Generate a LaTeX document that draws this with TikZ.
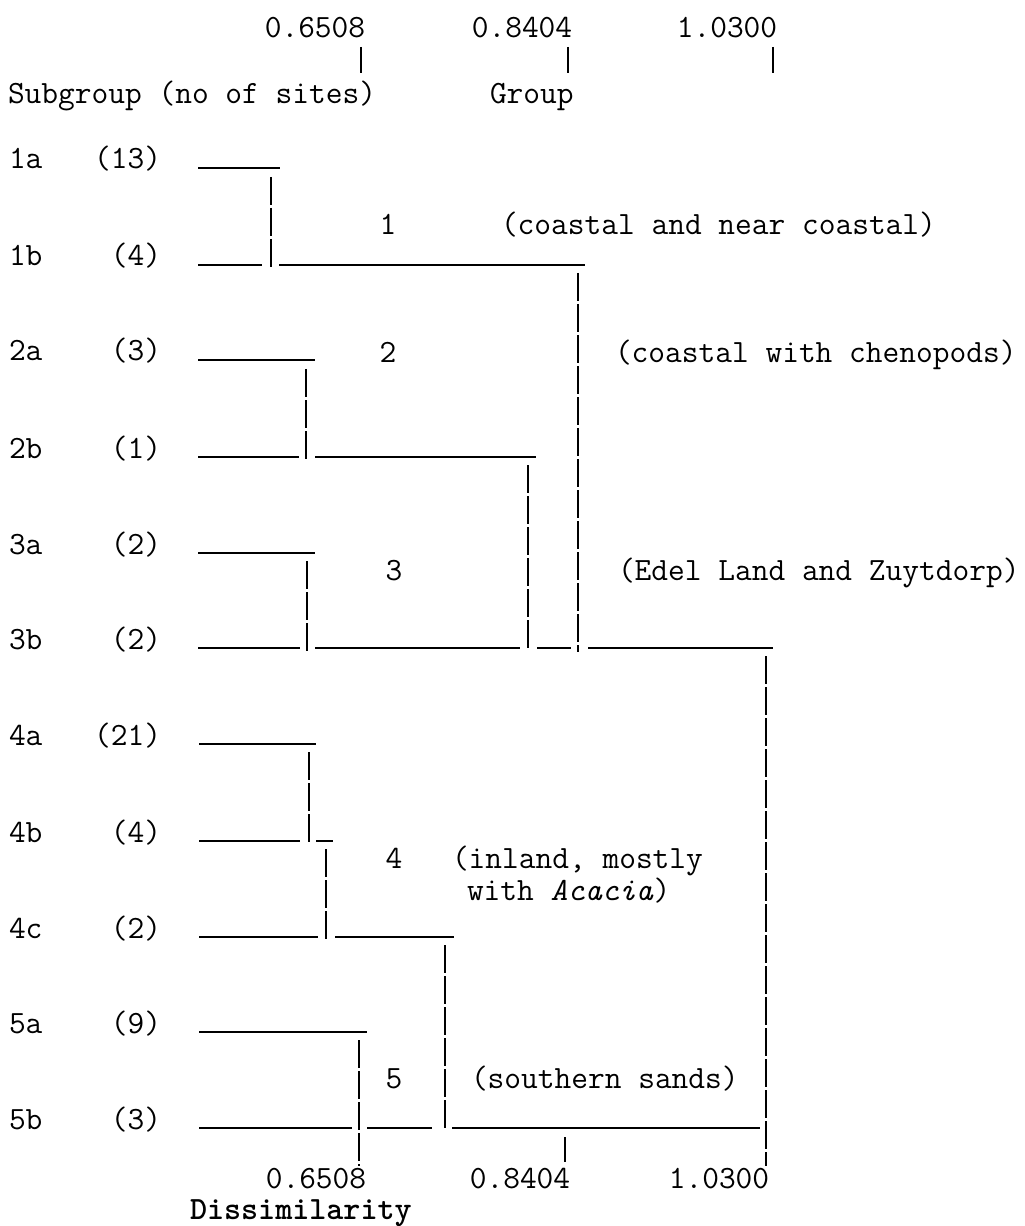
\documentclass[tikz,border=0pt]{standalone}
\begin{document}
\begin{tikzpicture}[x=0.5bp,y=-0.5bp,
  txt/.style={font=\fontsize{16.24bp}{19bp}\selectfont\ttfamily, inner sep=0pt, outer sep=0pt},
  hbar/.style={line width=1.2bp},
  vbar/.style={line width=1.2bp, dash pattern=on 14bp off 1.5bp},
]
\useasboundingbox[fill=white] (0,0) rectangle (1024,1226);

% dissimilarity scale along the top
\node[txt,anchor=base] (top1) at (315,38) {0.6508};
\node[txt,anchor=base] (top2) at (522,38) {0.8404};
\node[txt,anchor=base] (top3) at (727,38) {1.0300};
\coordinate (tt1a) at (361,47); \coordinate (tt1b) at (361,73);
\coordinate (tt2a) at (568,47); \coordinate (tt2b) at (568,73);
\coordinate (tt3a) at (773,47); \coordinate (tt3b) at (773,73);
\draw[hbar] (tt1a) -- (tt1b);
\draw[hbar] (tt2a) -- (tt2b);
\draw[hbar] (tt3a) -- (tt3b);

% column headings
\node[txt,anchor=base west] (head) at (8,104) {Subgroup (no of sites)};
\node[txt,anchor=base west] (grp) at (490,104) {Group};

% subgroup rows: name, count, line level
\foreach \nm/\cnt/\yy in {1a/13/168, 1b/4/265, 2a/3/360, 2b/1/457, 3a/2/553,
    3b/2/648, 4a/21/744, 4b/4/841, 4c/2/937, 5a/9/1032, 5b/3/1128} {
  \node[txt,anchor=base west] (lab\nm) at (9,\yy+1) {\nm};
  \node[txt,anchor=base east] (cnt\nm) at (161,\yy+1) {(\cnt)};
}

% group labels
\node[txt,anchor=base] (g1) at (388,235) {1};
\node[txt,anchor=base west] (d1) at (501,235) {(coastal and near coastal)};
\node[txt,anchor=base] (g2) at (388,363) {2};
\node[txt,anchor=base west] (d2) at (615,363) {(coastal with chenopods)};
\node[txt,anchor=base] (g3) at (394,580) {3};
\node[txt,anchor=base west] (d3) at (618,580) {(Edel Land and Zuytdorp)};
\node[txt,anchor=base] (g4) at (394,868) {4};
\node[txt,anchor=base west] (d4a) at (452,868) {(inland, mostly};
\node[txt,anchor=base west] (d4b) at (467,900) {with \textit{Acacia})};
\node[txt,anchor=base] (g5) at (394,1088) {5};
\node[txt,anchor=base west] (d5) at (471,1088) {(southern sands)};

% group 1
\draw[hbar] (198,168) -- (280,168);
\draw[vbar] (271,177) -- (271,268);
\draw[hbar] (198,265) -- (262,265);
\draw[hbar] (279,265) -- (585,265);
\draw[vbar] (578,273) -- (578,652);

% group 2
\draw[hbar] (198,360) -- (315,360);
\draw[vbar] (306,369) -- (306,461);
\draw[hbar] (198,457) -- (299,457);
\draw[hbar] (315,457) -- (536,457);
\draw[vbar] (528,465) -- (528,651);

% group 3
\draw[hbar] (198,553) -- (315,553);
\draw[vbar] (307,561) -- (307,651);
\draw[hbar] (198,648) -- (300,648);
\draw[hbar] (315,648) -- (520,648);
\draw[hbar] (537,648) -- (571,648);
\draw[hbar] (588,648) -- (773,648);
\draw[vbar] (766,656) -- (766,1166);

% group 4
\draw[hbar] (199,744) -- (316,744);
\draw[vbar] (309,752) -- (309,845);
\draw[hbar] (199,841) -- (300,841);
\draw[hbar] (316,841) -- (333,841);
\draw[vbar] (326,849) -- (326,940);
\draw[hbar] (199,937) -- (318,937);
\draw[hbar] (335,937) -- (454,937);
\draw[vbar] (445,945) -- (445,1131);

% group 5
\draw[hbar] (199,1032) -- (367,1032);
\draw[vbar] (359,1040) -- (359,1166);
\draw[hbar] (199,1128) -- (352,1128);
\draw[hbar] (367,1128) -- (432,1128);
\draw[hbar] (452,1128) -- (760,1128);

% dissimilarity scale along the bottom
\draw[hbar] (565,1137) -- (565,1162);
\node[txt,anchor=base] (bot1) at (316,1188) {0.6508};
\node[txt,anchor=base] (bot2) at (520,1188) {0.8404};
\node[txt,anchor=base] (bot3) at (719,1188) {1.0300};
\node[txt,anchor=base west,font=\fontsize{16.24bp}{19bp}\selectfont\ttfamily\bfseries] (axis) at (190,1219) {Dissimilarity};
\end{tikzpicture}
\end{document}
